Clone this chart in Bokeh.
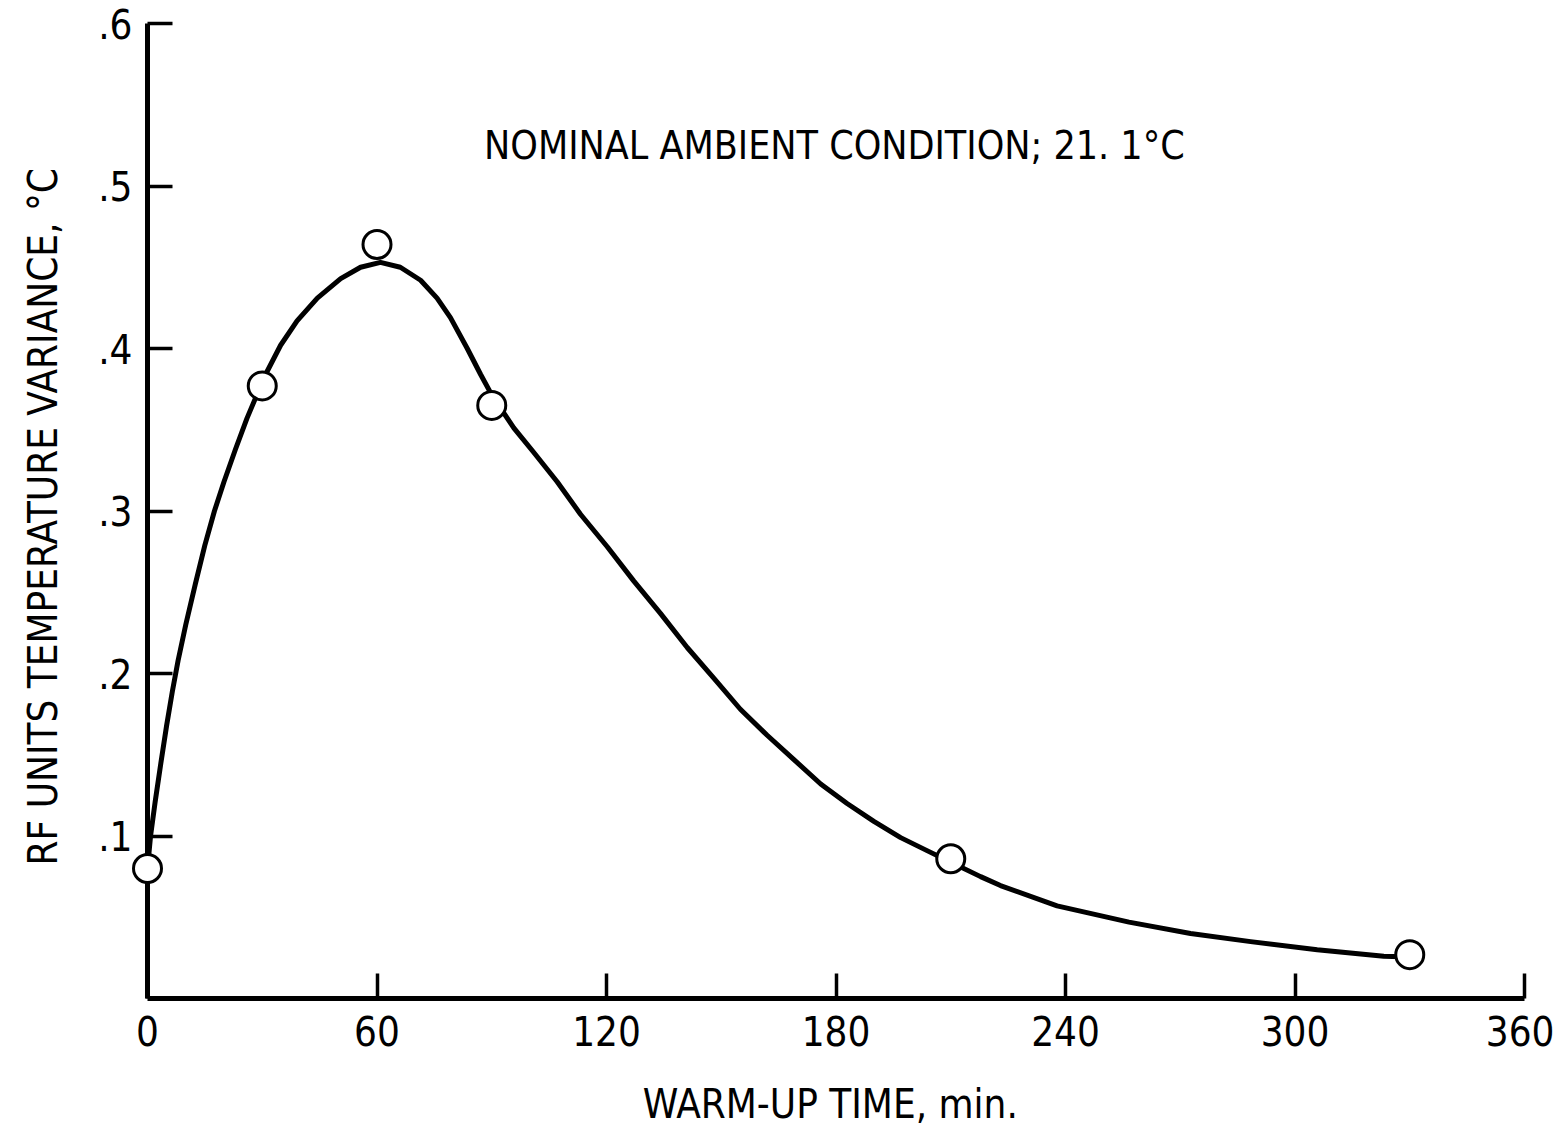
from bokeh.plotting import figure
from bokeh.models import FixedTicker, Label
from bokeh.embed import file_html
from bokeh.resources import INLINE

# measured data points (warm-up time in min, variance in deg C)
pts_x = [0, 30, 60, 90, 210, 330]
pts_y = [0.080, 0.377, 0.464, 0.365, 0.086, 0.027]

# hand-drawn fitted curve
curve_x = [0, 0.8, 2.0, 3.5, 5.0, 6.5, 8.0, 10.0, 12.5, 15.0, 17.5, 20.0, 23.0, 26.0, 29.4,
           31.3, 34.8, 39.1, 44.4, 50.5, 55.7, 60.9, 66.1, 71.4, 75.7, 79.2, 83.6, 87.1, 90.1,
           95.8, 101.0, 107.1, 113.2, 120.2, 127.1, 134.1, 141.1, 148.1, 155.0, 162.0, 169.0,
           176.0, 182.9, 189.9, 196.9, 203.8, 209.5, 217.8, 223.0, 237.8, 256.6, 272.7, 288.4,
           305.8, 323.2, 330]
curve_y = [0.080, 0.100, 0.121, 0.145, 0.168, 0.189, 0.208, 0.230, 0.255, 0.279, 0.300, 0.318,
           0.338, 0.357, 0.376, 0.386, 0.402, 0.417, 0.431, 0.443, 0.450, 0.453, 0.450, 0.442,
           0.431, 0.419, 0.400, 0.384, 0.371, 0.351, 0.336, 0.318, 0.298, 0.278, 0.257, 0.237,
           0.216, 0.197, 0.178, 0.162, 0.147, 0.132, 0.120, 0.109, 0.099, 0.091, 0.0845, 0.075,
           0.0695, 0.057, 0.047, 0.040, 0.035, 0.030, 0.026, 0.0255]

x_ticks = [0, 60, 120, 180, 240, 300, 360]
y_ticks = [0.1, 0.2, 0.3, 0.4, 0.5, 0.6]
y_tick_labels = [".1", ".2", ".3", ".4", ".5", ".6"]

title_text = "NOMINAL AMBIENT CONDITION; 21. 1°C"
x_label = "WARM-UP TIME,  min."
y_label = "RF UNITS TEMPERATURE VARIANCE,  °C"

FONT = "'Liberation Sans Narrow', 'DejaVu Sans Condensed', 'Open Sans', sans-serif"

p = figure(frame_width=1377, frame_height=975, x_range=(0, 360), y_range=(0, 0.6),
           output_backend="svg", toolbar_location=None,
           min_border_left=147, min_border_top=23, min_border_right=30, min_border_bottom=120)
p.outline_line_color = None
p.xgrid.grid_line_color = None
p.ygrid.grid_line_color = None
p.background_fill_color = "white"
p.border_fill_color = "white"

for ax in (p.xaxis[0], p.yaxis[0]):
    ax.axis_line_width = 5
    ax.axis_line_color = "black"
    ax.major_tick_line_width = 3.5
    ax.major_tick_line_color = "black"
    ax.major_tick_out = 0
    ax.major_tick_in = 25
    ax.minor_tick_line_color = None
    ax.major_label_text_font = FONT
    ax.major_label_text_font_size = "40px"
    ax.major_label_text_color = "black"
    ax.axis_label_text_font = FONT
    ax.axis_label_text_font_size = "40px"
    ax.axis_label_text_font_style = "normal"
    ax.axis_label_text_color = "black"

p.xaxis.ticker = FixedTicker(ticks=x_ticks)
p.yaxis.ticker = FixedTicker(ticks=y_ticks)
p.yaxis.major_label_overrides = {t: l for t, l in zip(y_ticks, y_tick_labels)}
p.xaxis.major_label_standoff = 17
p.yaxis.major_label_standoff = 15
p.xaxis.axis_label = x_label
p.yaxis.axis_label = y_label
p.xaxis.axis_label_standoff = 32
p.yaxis.axis_label_standoff = 29

p.line(curve_x, curve_y, line_width=5, line_color="black", line_join="round")
p.scatter(pts_x, pts_y, marker="circle", size=28, fill_color="white",
          line_color="black", line_width=3, level="overlay")

p.add_layout(Label(x=88, y=0.525, text=title_text, text_font=FONT,
                   text_font_size="39px", text_color="black",
                   text_baseline="alphabetic", text_align="left"))

open("out.html", "w").write(file_html(p, INLINE))
